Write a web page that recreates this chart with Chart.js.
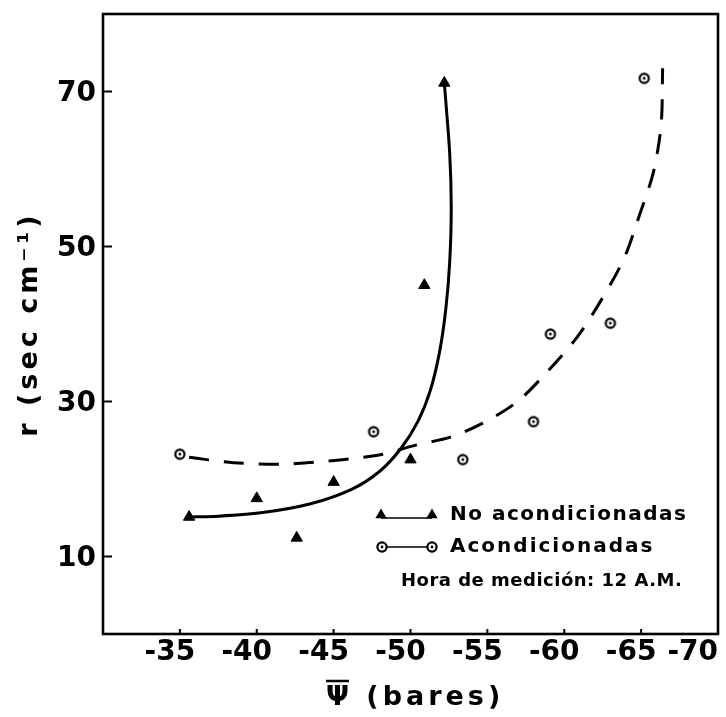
<!DOCTYPE html>
<html>
<head>
<meta charset="utf-8">
<script src="https://cdn.jsdelivr.net/npm/chart.js@4/dist/chart.umd.min.js"></script>
<style>
  html, body { margin: 0; padding: 0; background: #fff; }
  #wrap { width: 726px; height: 717px; }
</style>
</head>
<body>
<div id="wrap"><canvas id="myChart"></canvas></div>
<script>
// tick labels
var xTicks = [-35, -40, -45, -50, -55, -60, -65, -70];
var yTicks = [10, 30, 50, 70];

// measured points
var noAcondX = [-35.6, -40.0, -42.6, -45.0, -50.0, -50.9, -52.2];
var noAcondY = [15.1, 17.5, 12.4, 19.6, 22.5, 45.0, 71.1];
var acondX = [-35.0, -47.6, -53.4, -58.0, -59.1, -63.0, -65.2];
var acondY = [23.2, 26.1, 22.5, 27.4, 38.7, 40.1, 71.7];

// hand drawn fit curves
var curvaNoX = [-35.6, -37.5, -40.5, -43.5, -46.2, -48.0, -49.4, -50.5, -51.3, -51.9, -52.3, -52.55, -52.65, -52.55, -52.2];
var curvaNoY = [15.1, 15.2, 15.7, 16.8, 18.7, 21.0, 24.0, 27.5, 31.5, 36.5, 42.0, 48.0, 55.0, 62.0, 71.1];
var curvaAcX = [-35.6, -38.5, -41.7, -43.9, -46.1, -48.2, -50.4, -52.6, -54.7, -56.9, -58.6, -60.8, -62.5, -63.9, -64.9, -65.8, -66.3, -66.4];
var curvaAcY = [22.8, 22.1, 21.9, 22.2, 22.6, 23.2, 24.4, 25.4, 27.2, 29.9, 33.2, 38.2, 43.4, 48.5, 54.1, 59.6, 65.7, 73.0];

var FONT = '"DejaVu Sans"';

function pts(xs, ys) {
  return xs.map(function (x, i) { return { x: x, y: ys[i] }; });
}

// open circle with a dot in the middle
function ringMarker() {
  var c = document.createElement('canvas');
  c.width = c.height = 14;
  var g = c.getContext('2d');
  g.lineWidth = 2.2;
  g.strokeStyle = '#000';
  g.fillStyle = '#fff';
  g.beginPath(); g.arc(7, 7, 4.6, 0, 2 * Math.PI); g.fill(); g.stroke();
  g.fillStyle = '#000';
  g.beginPath(); g.arc(7, 7, 1.4, 0, 2 * Math.PI); g.fill();
  return c;
}
var ring = ringMarker();

function triangle(ctx, x, y, r) {
  ctx.beginPath();
  ctx.moveTo(x, y - r);
  ctx.lineTo(x + r * 0.87, y + r * 0.5);
  ctx.lineTo(x - r * 0.87, y + r * 0.5);
  ctx.closePath();
  ctx.fill();
}

// frame, inward ticks, tick labels, axis titles and legend
var frame = {
  id: 'frame',
  afterDraw: function (chart) {
    var ctx = chart.ctx, a = chart.chartArea;
    var xs = chart.scales.x, ys = chart.scales.y;
    ctx.save();
    ctx.strokeStyle = '#000';
    ctx.fillStyle = '#000';
    ctx.lineWidth = 2.6;
    ctx.strokeRect(a.left, a.top, a.right - a.left, a.bottom - a.top);

    ctx.lineWidth = 2;
    ctx.beginPath();
    yTicks.forEach(function (v) {
      var p = ys.getPixelForValue(v);
      ctx.moveTo(a.left, p); ctx.lineTo(a.left + 9, p);
    });
    xTicks.forEach(function (v) {
      var p = xs.getPixelForValue(v);
      ctx.moveTo(p, a.bottom); ctx.lineTo(p, a.bottom - 5);
    });
    ctx.stroke();

    ctx.font = 'bold 28px ' + FONT;
    ctx.textBaseline = 'middle';
    ctx.textAlign = 'right';
    yTicks.forEach(function (v) {
      ctx.fillText(String(v), a.left - 7, ys.getPixelForValue(v) + 2);
    });
    ctx.textAlign = 'center';
    xTicks.forEach(function (v) {
      var t = String(v);
      var w = ctx.measureText(t).width;
      var cx = Math.min(xs.getPixelForValue(v) - 10, a.right - w / 2);
      ctx.fillText(t, cx, 653);
    });

    // axis titles
    ctx.font = 'bold 27px ' + FONT;
    ctx.letterSpacing = '4px';
    ctx.save();
    ctx.translate(30, (a.top + a.bottom) / 2);
    ctx.rotate(-Math.PI / 2);
    ctx.fillText('r (sec cm\u207B\u00B9)', 0, 0);
    ctx.restore();

    ctx.textAlign = 'left';
    var x0 = 326;
    ctx.fillText('\u03A8 (bares)', x0, 698);
    var wPsi = ctx.measureText('\u03A8').width - 4;
    ctx.lineWidth = 2.5;
    ctx.beginPath();
    ctx.moveTo(x0, 681); ctx.lineTo(x0 + wPsi, 681);
    ctx.stroke();
    ctx.letterSpacing = '0px';

    // legend
    ctx.lineWidth = 1.5;
    ctx.beginPath();
    ctx.moveTo(381, 518); ctx.lineTo(432, 518);
    ctx.moveTo(382, 547); ctx.lineTo(432, 547);
    ctx.stroke();
    triangle(ctx, 381, 515, 6.5);
    triangle(ctx, 432, 515, 6.5);
    ctx.drawImage(ring, 382 - 7, 547 - 7);
    ctx.drawImage(ring, 432 - 7, 547 - 7);

    ctx.textAlign = 'left';
    ctx.font = 'bold 20px ' + FONT;
    ctx.letterSpacing = '1.5px';
    ctx.fillText('No acondicionadas', 450, 515);
    ctx.letterSpacing = '2px';
    ctx.fillText('Acondicionadas', 450, 547);
    ctx.font = 'bold 18px ' + FONT;
    ctx.letterSpacing = '0.5px';
    ctx.fillText('Hora de medici\u00F3n: 12 A.M.', 401, 581);
    ctx.restore();
  }
};

var ctx = document.getElementById('myChart');
var myChart = new Chart(ctx, {
  type: 'scatter',
  data: {
    datasets: [
      {
        label: 'No acondicionadas (curva)',
        data: pts(curvaNoX, curvaNoY),
        showLine: true,
        borderColor: '#000',
        borderWidth: 3,
        pointRadius: 0,
        tension: 0.3
      },
      {
        label: 'Acondicionadas (curva)',
        data: pts(curvaAcX, curvaAcY),
        showLine: true,
        borderColor: '#000',
        borderWidth: 3,
        borderDash: [20, 15],
        borderCapStyle: 'butt',
        pointRadius: 0,
        tension: 0.3
      },
      {
        label: 'No acondicionadas',
        data: pts(noAcondX, noAcondY),
        pointStyle: 'triangle',
        pointRadius: 6.5,
        backgroundColor: '#000',
        borderColor: '#000',
        borderWidth: 1
      },
      {
        label: 'Acondicionadas',
        data: pts(acondX, acondY),
        pointStyle: ring
      }
    ]
  },
  options: {
    responsive: true,
    maintainAspectRatio: false,
    animation: false,
    layout: { padding: { top: 14, right: 8, left: 0, bottom: 0 } },
    plugins: { legend: { display: false }, tooltip: { enabled: false } },
    scales: {
      x: {
        type: 'linear',
        min: -70,
        max: -30,
        reverse: true,
        grid: { display: false },
        border: { display: false },
        ticks: { display: false },
        afterFit: function (s) { s.height = 83; }
      },
      y: {
        type: 'linear',
        min: 0,
        max: 80,
        grid: { display: false },
        border: { display: false },
        ticks: { display: false },
        afterFit: function (s) { s.width = 103; }
      }
    }
  },
  plugins: [frame]
});
</script>
</body>
</html>
